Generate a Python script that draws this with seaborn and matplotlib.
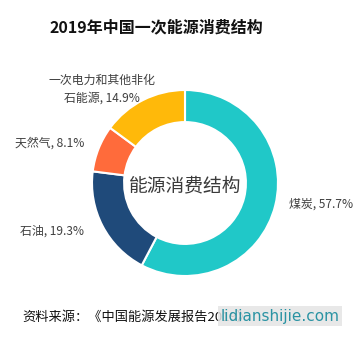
import matplotlib
matplotlib.use("Agg")
import matplotlib.pyplot as plt
import seaborn as sns

# ---- data ----
categories = ["煤炭", "石油", "天然气", "一次电力和其他非化\n石能源"]
shares = [57.7, 19.3, 8.1, 14.9]
colors = ["#20C8C8", "#1F4A7A", "#FF6B3B", "#FFB90A"]
title = "2019年中国一次能源消费结构"
center_text = "能源消费结构"
source = "资料来源：《中国能源发展报告2019》"
watermark = "lidianshijie.com"

sns.set_theme(style="white")
plt.rcParams['font.family'] = ['Noto Sans CJK SC', 'DejaVu Sans']

W, H = 363, 349
fig = plt.figure(figsize=(W / 100, H / 100), dpi=100)
fig.patch.set_facecolor("white")

# donut axes: centre (185,183) px, radius 93 px
cx, cy, R = 185, 183, 93
ax = fig.add_axes([(cx - R) / W, (H - cy - R) / H, 2 * R / W, 2 * R / H])
ax.pie(shares, colors=colors, startangle=90, counterclock=False, radius=1,
       wedgeprops=dict(width=0.345, edgecolor="white", linewidth=1.5))
ax.set_xlim(-1, 1)
ax.set_ylim(-1, 1)
ax.set_aspect("equal")
ax.axis("off")

ax.text(0, -0.03, center_text, ha="center", va="center", fontsize=13.5,
        color="#3a3a3a", fontweight="light")

def px(x, y):
    return (x - cx) / R, (cy - y) / R

lab_kw = dict(fontsize=8.6, color="#404040", clip_on=False)
labels = [f"{c}, {v}%" for c, v in zip(categories, shares)]
x, y = px(289, 204)
ax.text(x, y, labels[0], ha="left", va="center", **lab_kw)
x, y = px(84, 231)
ax.text(x, y, labels[1], ha="right", va="center", **lab_kw)
x, y = px(84, 143)
ax.text(x, y, labels[2], ha="right", va="center", **lab_kw)
x, y = px(102, 89)
ax.text(x, y, labels[3], ha="center", va="center", multialignment="center",
        linespacing=1.45, **lab_kw)

fig.text(156 / W, 1 - 27 / H, title, ha="center", va="center",
         fontsize=11.5, fontweight="bold", color="#111111")
fig.text(22 / W, 1 - 317 / H, source, ha="left", va="center",
         fontsize=9.5, color="#111111")
fig.text(280 / W, 1 - 316 / H, watermark, ha="center", va="center",
         fontsize=11, color="#2A93A3", family="DejaVu Sans",
         bbox=dict(boxstyle="square,pad=0.15", facecolor="#E4E4E4",
                   edgecolor="none", alpha=0.85))

fig.savefig("out.png", dpi=100, facecolor="white")
